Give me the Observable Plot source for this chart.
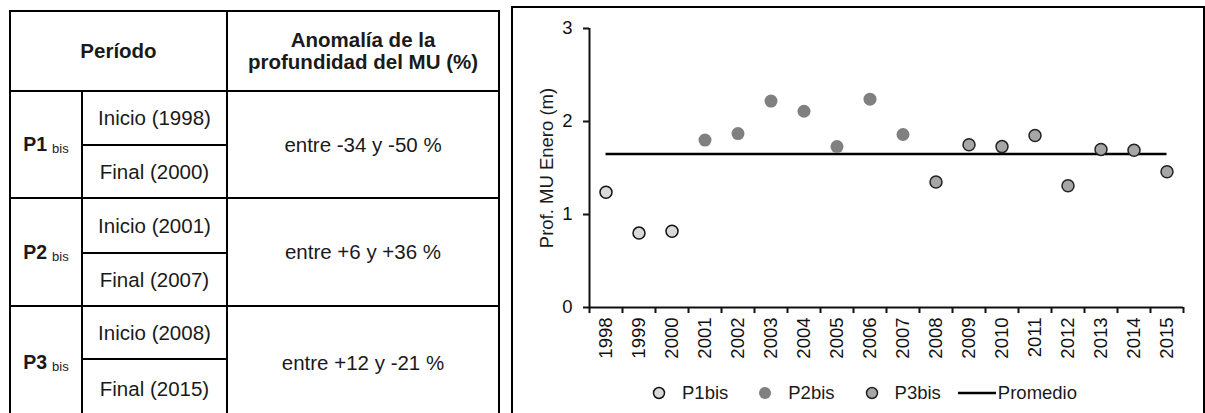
<!DOCTYPE html>
<html><head><meta charset="utf-8">
<script src="https://cdn.jsdelivr.net/npm/d3@7"></script>
<script src="https://cdn.jsdelivr.net/npm/@observablehq/plot@0.6"></script>
<style>
html,body{margin:0;padding:0;width:1205px;height:413px;overflow:hidden;background:#fff;font-family:"Liberation Sans",Arial,sans-serif;}
#tbl{position:absolute;left:9px;top:10px;border-collapse:collapse;table-layout:fixed;color:#1a1a1a;}
#tbl td,#tbl th{border:2px solid #000;text-align:center;vertical-align:middle;padding:0;font-size:20.5px;}
#tbl th{font-weight:bold;line-height:22px;}
#tbl .pb{font-weight:bold;font-size:19.5px;}
#tbl .pb sub{font-size:13px;font-weight:normal;vertical-align:-2px;margin-left:5px;}
#frame{position:absolute;left:511px;top:6px;width:694px;height:440px;border:2px solid #000;box-sizing:border-box;}
#chart{position:absolute;left:513px;top:8px;}
#legend{position:absolute;top:382px;left:652px;display:flex;align-items:center;font-size:18.5px;color:#1a1a1a;white-space:nowrap;}
#legend .it{display:flex;align-items:center;margin-right:30px;}
#legend .it svg{margin-right:16px;}
#legend .it.last{margin-right:17px;}
</style>
</head><body>
<table id="tbl">
<colgroup><col style="width:72px"><col style="width:145px"><col style="width:272px"></colgroup>
<tbody id="tb"></tbody>
</table>
<div id="frame"></div>
<div id="chart"></div>
<div id="legend"></div>
<script>
// ---- table data ----
const headPeriodo = "Período";
const headAnomalia = ["Anomalía de la", "profundidad del MU (%)"];
const periodIds = ["P1", "P2", "P3"];
const periodSub = "bis";
const inicioLabels = ["Inicio (1998)", "Inicio (2001)", "Inicio (2008)"];
const finalLabels = ["Final (2000)", "Final (2007)", "Final (2015)"];
const anomalias = ["entre -34 y -50 %", "entre +6 y +36 %", "entre +12 y -21 %"];

// ---- chart data ----
const years = [1998,1999,2000,2001,2002,2003,2004,2005,2006,2007,2008,2009,2010,2011,2012,2013,2014,2015];
const depth = [1.24,0.80,0.82,1.80,1.87,2.22,2.11,1.73,2.24,1.86,1.35,1.75,1.73,1.85,1.31,1.70,1.69,1.46];
const period = ["P1bis","P1bis","P1bis","P2bis","P2bis","P2bis","P2bis","P2bis","P2bis","P2bis","P3bis","P3bis","P3bis","P3bis","P3bis","P3bis","P3bis","P3bis"];
const promedio = [1.65];
const seriesNames = ["P1bis", "P2bis", "P3bis"];
const lineName = "Promedio";
const yTicks = [0, 1, 2, 3];
const yLabel = "Prof. MU Enero (m)";

// ---- build table ----
const tb = d3.select("#tb");
const hr = tb.append("tr").style("height", "80px");
hr.append("th").attr("colspan", 2).text(headPeriodo);
hr.append("th").html(headAnomalia.join("<br>"));
const rowH = [[54, 53], [55, 53], [53, 60]];
periodIds.forEach((p, i) => {
  const r1 = tb.append("tr").style("height", rowH[i][0] + "px");
  const c = r1.append("td").attr("rowspan", 2).attr("class", "pb");
  c.append("span").text(p);
  c.append("sub").text(periodSub);
  r1.append("td").text(inicioLabels[i]);
  r1.append("td").attr("rowspan", 2).text(anomalias[i]);
  const r2 = tb.append("tr").style("height", rowH[i][1] + "px");
  r2.append("td").text(finalLabels[i]);
});

// ---- chart ----
const data = years.map((y, i) => ({year: y, depth: depth[i], period: period[i]}));
const x0 = d3.min(years) - 0.5, x1 = d3.max(years) + 0.5;
const bounds = [...years.map(y => y - 0.5), x1];
const styles = {
  P1bis: {fill: "#d9d9d9", stroke: "#111", strokeWidth: 1.5, r: 6},
  P2bis: {fill: "#808080", stroke: "none", r: 6.5},
  P3bis: {fill: "#a6a6a6", stroke: "#222", strokeWidth: 1.5, r: 6}
};

const chart = Plot.plot({
  width: 690, height: 364,
  marginLeft: 76, marginTop: 20, marginRight: 20, marginBottom: 65,
  style: {fontFamily: "'Liberation Sans', Arial, sans-serif", fontSize: "18.5px", color: "#111", background: "transparent"},
  x: {domain: [x0, x1]},
  y: {domain: [0, 3]},
  marks: [
    Plot.ruleY([0], {strokeWidth: 2}),
    Plot.ruleX([x0], {strokeWidth: 2}),
    Plot.axisY(yTicks, {tickSize: 6, tickPadding: 11, strokeWidth: 2, tickFormat: d => String(d), label: null}),
    Plot.text([yLabel], {frameAnchor: "left", textAnchor: "middle", rotate: -90, dx: -42, fontSize: 18.5, fill: "#1a1a1a"}),
    Plot.axisX(bounds, {tickSize: 6, tickFormat: () => "", strokeWidth: 2, label: null}),
    Plot.axisX(years, {tickSize: 0, tickPadding: 10, tickRotate: -90, tickFormat: d => String(d), label: null}),
    Plot.ruleY(promedio, {x1: d3.min(years), x2: d3.max(years), strokeWidth: 2.5, stroke: "#000"}),
    ...seriesNames.map(s => Plot.dot(data.filter(d => d.period === s), {x: "year", y: "depth", ...styles[s]}))
  ]
});
document.getElementById("chart").appendChild(chart);

// ---- legend ----
const lg = d3.select("#legend");
seriesNames.forEach((s, i) => {
  const st = styles[s];
  const it = lg.append("div").attr("class", i === seriesNames.length - 1 ? "it last" : "it");
  const sv = it.append("svg").attr("width", 14).attr("height", 14);
  sv.append("circle").attr("cx", 7).attr("cy", 7).attr("r", st.r - 0.5)
    .attr("fill", st.fill).attr("stroke", st.stroke).attr("stroke-width", st.strokeWidth || 0);
  it.append("span").text(s);
});
const li = lg.append("div").attr("class", "it");
const lsv = li.append("svg").attr("width", 38).attr("height", 14).style("margin-right", "2px");
lsv.append("line").attr("x1", 0).attr("x2", 38).attr("y1", 7).attr("y2", 7).attr("stroke", "#000").attr("stroke-width", 2.5);
li.append("span").text(lineName);
</script>
</body></html>
